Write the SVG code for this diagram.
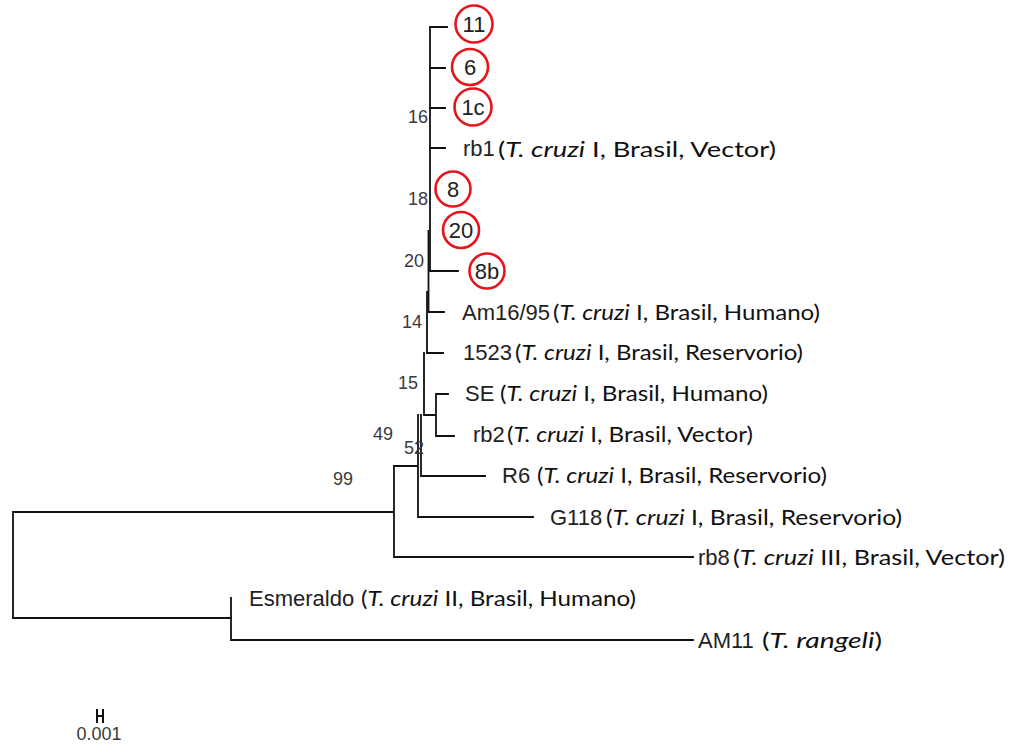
<svg xmlns="http://www.w3.org/2000/svg" width="1012" height="744" viewBox="0 0 1012 744">
  <style>
    .edge { fill: none; stroke: #111; stroke-width: 1.8; stroke-linecap: square; }
    .code { font-family: "Liberation Sans", Arial, sans-serif; font-size: 22px; fill: #222; }
    .info { font-family: Lato, "Noto Sans", sans-serif; font-size: 21px; fill: #111; }
    .info tspan { font-style: italic; }
    .boot { font-family: "Liberation Sans", Arial, sans-serif; font-size: 18px; fill: #3a3a3a; }
    .ring { fill: none; stroke: #e8141c; stroke-width: 2.6; }
    .ringtxt { font-family: "Liberation Sans", Arial, sans-serif; font-size: 22px; fill: #222; text-anchor: middle; }
  </style>
  <rect width="1012" height="744" fill="#fff"/>

  <!-- branches -->
  <g id="connectors" class="edge">
    <path d="M13,512 H394 M13,512 V618 H231"/>
    <path d="M231,598 V640 H693"/>
    <path d="M394,466 V557 H693"/>
    <path d="M394,466 H418 M418,415 V517 H533"/>
    <path d="M421,415 V476 H485"/>
    <path d="M424,353 V415 H436 M436,394 V436 M436,394 H448 M436,436 H454"/>
    <path d="M427,292 V353 H443"/>
    <path d="M428.5,231 V312 H444"/>
    <path d="M430,27 V271 H458"/>
    <path d="M430,27 H447 M430,68 H445 M430,108 H445 M430,148 H445"/>
  </g>

  <!-- bootstrap support values -->
  <g id="support">
    <text class="boot" x="408" y="123">16</text>
    <text class="boot" x="408" y="205">18</text>
    <text class="boot" x="404" y="267">20</text>
    <text class="boot" x="402" y="328">14</text>
    <text class="boot" x="398" y="389">15</text>
    <text class="boot" x="373" y="440">49</text>
    <text class="boot" x="404" y="454">52</text>
    <text class="boot" x="333" y="485">99</text>
  </g>

  <!-- circled isolates -->
  <g id="iso-11"><circle class="ring" cx="474" cy="24" r="18.5"/><text class="ringtxt" x="474" y="32">11</text></g>
  <g id="iso-6"><circle class="ring" cx="470" cy="67" r="18"/><text class="ringtxt" x="470" y="75">6</text></g>
  <g id="iso-1c"><circle class="ring" cx="473" cy="107" r="18.5"/><text class="ringtxt" x="473" y="115">1c</text></g>
  <g id="iso-8"><circle class="ring" cx="453" cy="189" r="17.5"/><text class="ringtxt" x="453" y="197">8</text></g>
  <g id="iso-20"><circle class="ring" cx="461" cy="230" r="18"/><text class="ringtxt" x="461" y="238">20</text></g>
  <g id="iso-8b"><circle class="ring" cx="487" cy="271" r="17.5"/><text class="ringtxt" x="487" y="279">8b</text></g>

  <!-- reference strains -->
  <g id="rb1">
    <text class="code" x="463" y="156">rb1</text>
    <text class="info" x="498" y="157" font-size="23.5" textLength="278" lengthAdjust="spacingAndGlyphs">(<tspan>T. cruzi</tspan> I, Brasil, Vector)</text>
  </g>
  <g id="Am16-95">
    <text class="code" x="462" y="320">Am16/95</text>
    <text class="info" x="553" y="320" textLength="267" lengthAdjust="spacingAndGlyphs">(<tspan>T. cruzi</tspan> I, Brasil, Humano)</text>
  </g>
  <g id="s1523">
    <text class="code" x="463" y="360">1523</text>
    <text class="info" x="515" y="360" textLength="288" lengthAdjust="spacingAndGlyphs">(<tspan>T. cruzi</tspan> I, Brasil, Reservorio)</text>
  </g>
  <g id="SE">
    <text class="code" x="465" y="401">SE</text>
    <text class="info" x="500" y="401" textLength="268" lengthAdjust="spacingAndGlyphs">(<tspan>T. cruzi</tspan> I, Brasil, Humano)</text>
  </g>
  <g id="rb2">
    <text class="code" x="473" y="442">rb2</text>
    <text class="info" x="507" y="442" textLength="246" lengthAdjust="spacingAndGlyphs">(<tspan>T. cruzi</tspan> I, Brasil, Vector)</text>
  </g>
  <g id="R6">
    <text class="code" x="502" y="483">R6</text>
    <text class="info" x="537" y="483" textLength="290" lengthAdjust="spacingAndGlyphs">(<tspan>T. cruzi</tspan> I, Brasil, Reservorio)</text>
  </g>
  <g id="G118">
    <text class="code" x="550" y="525">G118</text>
    <text class="info" x="606" y="525" textLength="296" lengthAdjust="spacingAndGlyphs">(<tspan>T. cruzi</tspan> I, Brasil, Reservorio)</text>
  </g>
  <g id="rb8">
    <text class="code" x="698" y="565">rb8</text>
    <text class="info" x="733" y="565" textLength="272" lengthAdjust="spacingAndGlyphs">(<tspan>T. cruzi</tspan> III, Brasil, Vector)</text>
  </g>
  <g id="Esmeraldo">
    <text class="code" x="249" y="606">Esmeraldo</text>
    <text class="info" x="361" y="606" textLength="275" lengthAdjust="spacingAndGlyphs">(<tspan>T. cruzi</tspan> II, Brasil, Humano)</text>
  </g>
  <g id="AM11">
    <text class="code" x="698" y="648">AM11</text>
    <text class="info" x="762" y="648" textLength="120" lengthAdjust="spacingAndGlyphs">(<tspan>T. rangeli</tspan>)</text>
  </g>

  <!-- scale bar -->
  <g id="scale">
    <path d="M97,709 V723 M103,709 V723 M97,716 H103" fill="none" stroke="#111" stroke-width="2"/>
    <text class="boot" x="99" y="740" text-anchor="middle">0.001</text>
  </g>
</svg>
